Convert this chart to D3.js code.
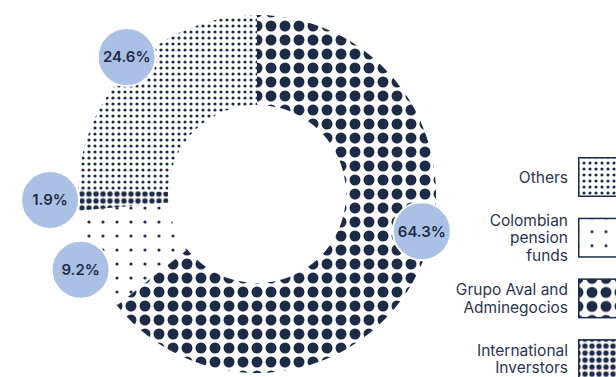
<!DOCTYPE html>
<html>
<head>
<meta charset="utf-8">
<title>Shareholders donut</title>
<script src="https://d3js.org/d3.v7.min.js"></script>
<style>
  body { margin: 0; background: #fff; }
  svg { display: block; font-family: Inter, "Noto Sans", sans-serif; }
</style>
</head>
<body>
<script>
// slices, clockwise from 12 o'clock
const holders = ["Grupo Aval and Adminegocios", "Colombian pension funds", "International Inverstors", "Others"]
const shares = [64.3, 9.2, 1.9, 24.6]
const patternOf = ["big", "sparse", "medium", "fine"]

// legend, top to bottom
const legendOrder = ["Others", "Colombian pension funds", "Grupo Aval and Adminegocios", "International Inverstors"]
const legendLines = [["Others"], ["Colombian", "pension", "funds"], ["Grupo Aval and", "Adminegocios"], ["International", "Inverstors"]]

const w = 616, h = 377
const navy = "#1e2b47"
const cx = 257, cy = 194, R = 179, r0 = 89

// bubble placement: extra turn (deg) and distance from centre
const bubbleTurn = [-13, -1.3, 0.3, 0.7]
const bubbleDist = [169, 192, 207, 189]

const svg = d3.select("body").append("svg").attr("width", w).attr("height", h)

const defs = svg.append("defs")
const pats = {
  big:    { step: 14, rad: 5.5 },
  sparse: { step: 14, rad: 1.6 },
  medium: { step: 7,  rad: 2.7 },
  fine:   { step: 6,  rad: 1.6 }
}
Object.entries(pats).forEach(([k, p]) => {
  let pt = defs.append("pattern")
    .attr("id", "p-" + k)
    .attr("patternUnits", "userSpaceOnUse")
    .attr("width", p.step).attr("height", p.step)
    .attr("x", -p.step / 2).attr("y", -p.step / 2)
  pt.append("circle").attr("cx", p.step / 2).attr("cy", p.step / 2).attr("r", p.rad).attr("fill", navy)
})

const pie = d3.pie().sort(null).value(d => d)
const arcs = pie(shares)
const arc = d3.arc().innerRadius(r0).outerRadius(R)

const g = svg.append("g").attr("transform", `translate(${cx},${cy})`)

g.selectAll("path.slice")
  .data(arcs)
  .enter()
  .append("path")
  .attr("class", "slice")
  .attr("d", arc)
  .attr("fill", (d, i) => `url(#p-${patternOf[i]})`)

// percentage bubbles
const bubbles = g.selectAll("g.bubble")
  .data(arcs)
  .enter()
  .append("g")
  .attr("class", "bubble")
  .attr("transform", (d, i) => {
    let a = (d.startAngle + d.endAngle) / 2 + bubbleTurn[i] * Math.PI / 180
    let x = Math.sin(a) * bubbleDist[i]
    let y = -Math.cos(a) * bubbleDist[i]
    return `translate(${x},${y})`
  })

bubbles.append("circle")
  .attr("r", 29)
  .attr("fill", "#abc0e5")
  .attr("stroke", "#fff")
  .attr("stroke-width", 2)

bubbles.append("text")
  .attr("text-anchor", "middle")
  .attr("dy", "0.36em")
  .attr("font-size", "15px")
  .attr("font-weight", 600)
  .attr("fill", "#1f2c48")
  .text(d => d.data.toFixed(1) + "%")

// legend
const legend = svg.append("g").attr("transform", "translate(578,157)")
const item = legend.selectAll("g")
  .data(legendOrder)
  .enter()
  .append("g")
  .attr("transform", (d, i) => `translate(0,${i * 60.7})`)

item.append("rect")
  .attr("x", 0.75).attr("y", 0.75)
  .attr("width", 40).attr("height", 38.5)
  .attr("fill", d => `url(#p-${patternOf[holders.indexOf(d)]})`)
  .attr("stroke", navy)
  .attr("stroke-width", 1.5)

item.append("text")
  .attr("text-anchor", "end")
  .attr("font-size", "15.5px")
  .attr("fill", "#2a3550")
  .selectAll("tspan")
  .data((d, i) => legendLines[i].map((t, j, all) => ({ t, j, n: all.length })))
  .enter()
  .append("tspan")
  .attr("x", -10)
  .attr("y", d => 20 + (d.j - (d.n - 1) / 2) * 17.5)
  .attr("dy", "0.36em")
  .text(d => d.t)
</script>
</body>
</html>
